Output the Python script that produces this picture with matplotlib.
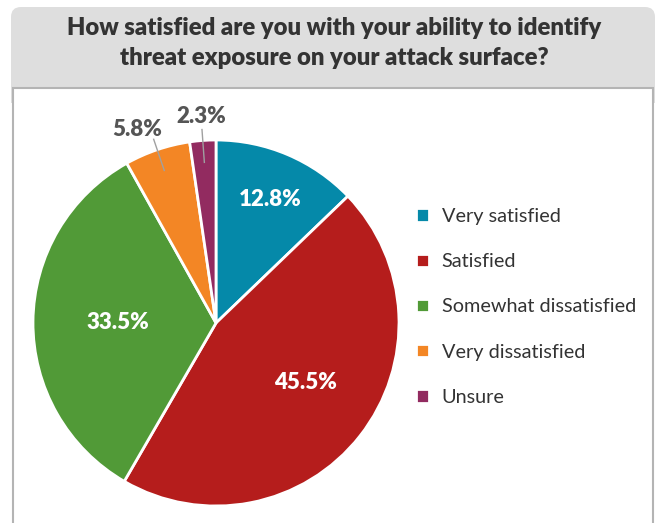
import numpy as np
import matplotlib
matplotlib.use("Agg")
import matplotlib.pyplot as plt
from matplotlib.patches import FancyBboxPatch, Rectangle

plt.rcParams["font.family"] = ["Lato", "DejaVu Sans"]

title = "How satisfied are you with your ability to identify\nthreat exposure on your attack surface?"
categories = ["Very satisfied", "Satisfied", "Somewhat dissatisfied",
              "Very dissatisfied", "Unsure"]
shares = [12.8, 45.5, 33.5, 5.8, 2.3]
colors = ["#0589a9", "#b51d1c", "#519a37", "#f38625", "#922b60"]
# small slices get their label outside with a leader line
outside = [False, False, False, True, True]

W, H = 660, 523
fig = plt.figure(figsize=(W / 100, H / 100), dpi=100)
ax = fig.add_axes([0, 0, 1, 1])
ax.set_xlim(0, W)
ax.set_ylim(0, H)
ax.set_aspect("equal")
ax.axis("off")

# header panel and framed body
ax.add_patch(FancyBboxPatch((11, 436), 644, 80, boxstyle="round,pad=0,rounding_size=10",
                            fc="#dedede", ec="none", zorder=0))
ax.add_patch(Rectangle((11, 420), 644, 30, fc="#dedede", ec="none", zorder=0))
ax.add_patch(Rectangle((13, -5), 640, 440, fc="white", ec="#b4b4b4", lw=1.5, zorder=1))
ax.text(334, 480, title, ha="center", va="center", fontsize=17.2, fontweight="heavy",
        color="#333333", linespacing=1.45, zorder=2)

cx, cy, R = 216, 200, 183
wedges, _ = ax.pie(shares, colors=colors, startangle=90, counterclock=False,
                   center=(cx, cy), radius=R, frame=True,
                   wedgeprops=dict(edgecolor="white", linewidth=2, zorder=3))
ax.set_xlim(0, W)
ax.set_ylim(0, H)
ax.axis("off")

# label distance from centre (fraction of radius) and small nudges in px
label_dist = [0.72, 0.58, 0.55, 1.13, 1.13]
nudge = [(3, 2), (6, 6), (3, 0), (-12, -2), (0, 0)]
for w, v, out, d, (nx, ny) in zip(wedges, shares, outside, label_dist, nudge):
    mid = np.deg2rad((w.theta1 + w.theta2) / 2)
    ux, uy = np.cos(mid), np.sin(mid)
    tx, ty = cx + d * R * ux + nx, cy + d * R * uy + ny
    if out:
        ax.plot([cx + 0.88 * R * ux, cx + 1.06 * R * ux],
                [cy + 0.88 * R * uy, cy + 1.06 * R * uy],
                color="#a0a0a0", lw=1, zorder=4)
        ax.text(tx, ty, f"{v}%", ha="center", va="center", fontsize=16,
                fontweight="heavy", color="#555555", zorder=4)
    else:
        ax.text(tx, ty, f"{v}%", ha="center", va="center", fontsize=16,
                fontweight="heavy", color="white", zorder=4)

leg = ax.legend(wedges, categories, loc="center left", bbox_to_anchor=(398, 216),
                bbox_transform=ax.transData, frameon=False, fontsize=14.3,
                handlelength=0.65, handleheight=0.65, handletextpad=0.65,
                labelspacing=1.42)
for t in leg.get_texts():
    t.set_color("#333333")

fig.savefig("out.png", dpi=100)
